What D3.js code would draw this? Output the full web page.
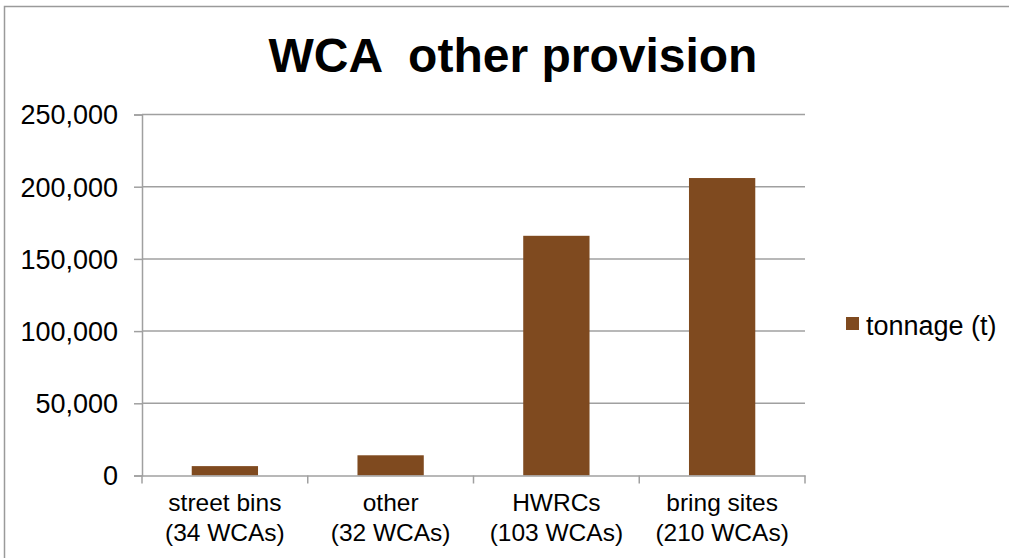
<!DOCTYPE html>
<html>
<head>
<meta charset="utf-8">
<script src="https://cdn.jsdelivr.net/npm/d3@7"></script>
<style>
  body { margin: 0; background: #fff; }
  text { font-family: "Liberation Sans", Arial, sans-serif; fill: #000; }
</style>
</head>
<body>
<div id="chartDiv"></div>
<script>
// data
var categories = ['street bins', 'other', 'HWRCs', 'bring sites'];
var subLabels = ['(34 WCAs)', '(32 WCAs)', '(103 WCAs)', '(210 WCAs)'];
var tonnage = [6500, 14000, 166000, 206000];
var yTicks = [0, 50000, 100000, 150000, 200000, 250000];
var seriesName = 'tonnage (t)';
var chartTitle = 'WCA  other provision';

var w = 1009, h = 558,
  padL = 142, padR = 805, padT = 114.5, padB = 475.5,
  barColor = '#7f4a1f', gridColor = '#a0a0a0';

var svg = d3.select('#chartDiv').append('svg')
  .attr('width', w)
  .attr('height', h);

// outer frame (only left + top visible)
svg.append('rect')
  .attr('x', 4.5).attr('y', 6.5)
  .attr('width', w + 10).attr('height', h + 10)
  .attr('fill', '#fff')
  .attr('stroke', '#9a9a9a')
  .attr('stroke-width', 1.5);

svg.append('text')
  .attr('x', 513).attr('y', 72)
  .attr('text-anchor', 'middle')
  .style('font-size', '48px')
  .style('font-weight', 'bold')
  .style('white-space', 'pre')
  .text(chartTitle);

var x = d3.scaleBand()
  .domain(categories)
  .range([padL, padR])
  .paddingInner(0.6)
  .paddingOuter(0.3);

var y = d3.scaleLinear()
  .domain([0, 250000])
  .range([padB, padT]);

// gridlines
svg.append('g').selectAll('line')
  .data(yTicks.filter(function(d) { return d > 0; }))
  .enter().append('line')
    .attr('x1', padL).attr('x2', padR)
    .attr('y1', function(d) { return y(d); })
    .attr('y2', function(d) { return y(d); })
    .attr('stroke', gridColor)
    .attr('stroke-width', 1.5);

// Y axis
var yAxis = d3.axisLeft(y)
  .tickValues(yTicks)
  .tickSize(8)
  .tickPadding(16)
  .tickFormat(d3.format(','));

var gy = svg.append('g')
  .attr('transform', 'translate(' + padL + ',0)')
  .call(yAxis);
gy.select('.domain').attr('stroke', gridColor).attr('stroke-width', 1.5);
gy.selectAll('.tick line').attr('stroke', gridColor).attr('stroke-width', 1.5);
gy.selectAll('.tick text')
  .style('font-size', '27px')
  .attr('dy', '0.35em')
  .attr('fill', '#000');

// bars
svg.append('g').selectAll('rect')
  .data(tonnage)
  .enter().append('rect')
    .attr('x', function(d, i) { return x(categories[i]); })
    .attr('width', x.bandwidth())
    .attr('y', function(d) { return y(d); })
    .attr('height', function(d) { return y(0) - y(d); })
    .attr('fill', barColor);

// X axis
var xAxis = d3.axisBottom(x).tickSize(0).tickFormat('');
var gx = svg.append('g')
  .attr('transform', 'translate(0,' + padB + ')')
  .call(xAxis);
gx.select('.domain').attr('stroke', gridColor).attr('stroke-width', 1.5);

// category boundary ticks
var bounds = categories.map(function(c) { return x(c) - x.step() * x.paddingInner() / 2; });
bounds.push(padR);
gx.append('g').selectAll('line')
  .data(bounds)
  .enter().append('line')
    .attr('x1', function(d) { return d; })
    .attr('x2', function(d) { return d; })
    .attr('y1', 0).attr('y2', 8)
    .attr('stroke', gridColor)
    .attr('stroke-width', 1.5);

var labels = svg.append('g').selectAll('text')
  .data(categories)
  .enter().append('text')
    .attr('text-anchor', 'middle')
    .attr('x', function(d) { return x(d) + x.bandwidth() / 2; })
    .attr('y', 511)
    .style('font-size', '24.5px');
labels.append('tspan')
  .attr('x', function(d) { return x(d) + x.bandwidth() / 2; })
  .text(function(d) { return d; });
labels.append('tspan')
  .attr('x', function(d) { return x(d) + x.bandwidth() / 2; })
  .attr('dy', 30)
  .text(function(d, i) { return subLabels[i]; });

// legend
var legend = svg.append('g').attr('transform', 'translate(846,317)');
legend.append('rect')
  .attr('width', 13).attr('height', 13)
  .attr('fill', barColor);
legend.append('text')
  .attr('x', 20).attr('y', 18)
  .style('font-size', '27px')
  .text(seriesName);
</script>
</body>
</html>
